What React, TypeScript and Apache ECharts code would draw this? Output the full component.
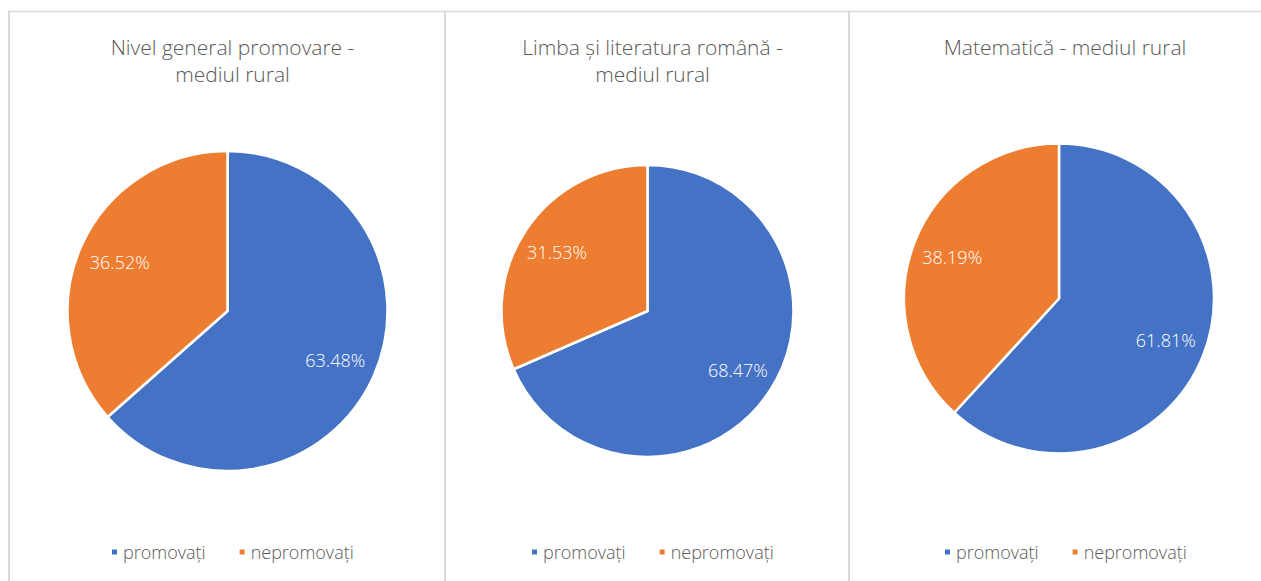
import React, { useEffect, useRef } from "react";
import * as echarts from "echarts";

const categories = ["promovați", "nepromovați"];
const titles = [
  "Nivel general promovare -\nmediul rural",
  "Limba și literatura română -\nmediul rural",
  "Matematică - mediul rural",
];
const generalValues = [63.48, 36.52];
const romanaValues = [68.47, 31.53];
const mateValues = [61.81, 38.19];
const panelValues = [generalValues, romanaValues, mateValues];

const colors = ["#4472C4", "#ED7D31"];
const textColor = "#595959";
const fontFamily = "'Open Sans', 'Noto Sans', sans-serif";

const panelCenters = [227.5, 647.5, 1060];
const pieCenters: [number, number][] = [
  [227.5, 311],
  [647.5, 311],
  [1059, 298.5],
];
const pieRadii = [160, 146, 155];
const legendLefts = [105, 525, 938];

export default function App() {
  const ref = useRef<HTMLDivElement>(null);
  useEffect(() => {
    if (!ref.current) return;
    const chart = echarts.init(ref.current, undefined, { renderer: "svg" });
    const series: any[] = [];
    panelValues.forEach((vals, i) => {
      const data = categories.map((name, j) => ({ name, value: vals[j] }));
      series.push({
        type: "pie",
        center: pieCenters[i],
        radius: [0, pieRadii[i]],
        startAngle: 90,
        clockwise: true,
        data,
        label: { show: false },
        labelLine: { show: false },
        itemStyle: { borderColor: "#ffffff", borderWidth: 2.5 },
        emphasis: { disabled: true },
      });
    });
    panelValues.forEach((vals, i) => {
      const data = categories.map((name, j) => ({ name, value: vals[j] }));
      series.push({
        type: "pie",
        center: pieCenters[i],
        radius: [pieRadii[i] * 0.44, pieRadii[i]],
        startAngle: 90,
        clockwise: true,
        silent: true,
        data,
        itemStyle: { color: "transparent", borderWidth: 0 },
        label: {
          show: true,
          position: "inside",
          color: "#ffffff",
          fontSize: 18,
          fontWeight: 300,
          fontFamily,
          formatter: (p: any) => p.value.toFixed(2) + "%",
        },
        labelLine: { show: false },
        emphasis: { disabled: true },
        legendHoverLink: false,
      });
    });

    const graphic: any[] = [
      { type: "line", shape: { x1: 8, y1: 11.5, x2: 1261, y2: 11.5 }, style: { stroke: "#d9d9d9", lineWidth: 1.5 } },
      { type: "line", shape: { x1: 9, y1: 11, x2: 9, y2: 581 }, style: { stroke: "#d9d9d9", lineWidth: 2 } },
      { type: "line", shape: { x1: 445, y1: 11, x2: 445, y2: 581 }, style: { stroke: "#d9d9d9", lineWidth: 2 } },
      { type: "line", shape: { x1: 849, y1: 11, x2: 849, y2: 581 }, style: { stroke: "#d9d9d9", lineWidth: 2 } },
    ];

    chart.setOption({
      animation: false,
      color: colors,
      title: titles.map((t, i) => ({
        text: t,
        left: panelCenters[i],
        top: 28,
        textAlign: "center",
        textStyle: {
          color: textColor,
          fontSize: 21,
          fontWeight: 300,
          fontFamily,
          lineHeight: 27,
        },
      })),
      legend: legendLefts.map((l) => ({
        data: categories,
        left: l,
        top: 538,
        icon: "rect",
        itemWidth: 7,
        itemHeight: 7,
        itemGap: 32,
        selectedMode: false,
        textStyle: { color: textColor, fontSize: 18, fontWeight: 300, fontFamily },
      })),
      graphic,
      series,
    });
    return () => chart.dispose();
  }, []);
  return (
    <div
      ref={ref}
      style={{ position: "absolute", left: 0, top: 0, width: 1261, height: 581 }}
    />
  );
}
